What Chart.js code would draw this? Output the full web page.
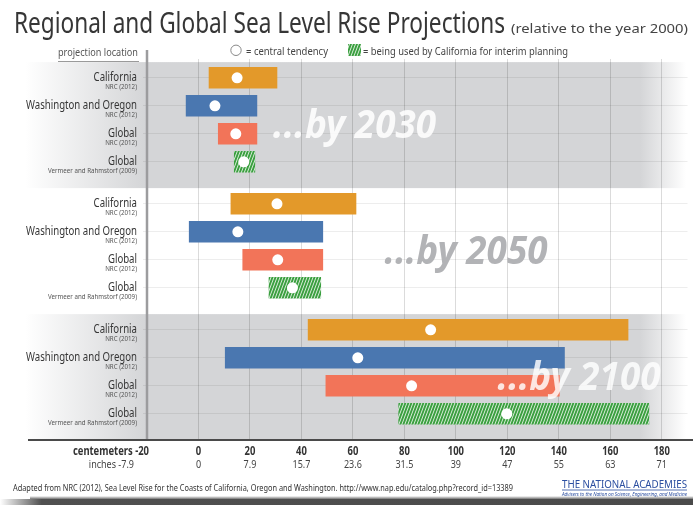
<!DOCTYPE html>
<html>
<head>
<meta charset="utf-8">
<script src="https://cdn.jsdelivr.net/npm/chart.js@4.4.0/dist/chart.umd.min.js"></script>
<title>Regional and Global Sea Level Rise Projections</title>
<style>
  html, body { margin: 0; padding: 0; background: #fff; }
  #wrap { position: relative; width: 693px; height: 505px; }
</style>
</head>
<body>
<div id="wrap"><canvas id="slr"></canvas></div>
<script>
// horizons and the four projections listed under each
var horizons = ['2030', '2050', '2100'];
var places = ['California', 'Washington and Oregon', 'Global', 'Global'];
var sources = ['NRC (2012)', 'NRC (2012)', 'NRC (2012)', 'Vermeer and Rahmstorf (2009)'];

// sea level rise in cm, one value per horizon
var caLow = [4.1, 12.6, 42.6],  caHigh = [30.5, 61.2, 166.9], caMid = [15.0, 30.5, 90.2];
var waLow = [-4.8, -3.6, 10.4], waHigh = [22.7, 48.3, 142.2], waMid = [6.4, 15.3, 61.9];
var glLow = [7.7, 17.2, 49.5],  glHigh = [22.7, 48.3, 140.2], glMid = [14.5, 30.8, 82.8];
var vrLow = [13.9, 27.4, 77.8], vrHigh = [21.9, 47.5, 175.0], vrMid = [17.6, 36.5, 119.8];

// bottom axis
var cmTicks = [-20, 0, 20, 40, 60, 80, 100, 120, 140, 160, 180];
var inchLabels = ['-7.9', '0', '7.9', '15.7', '23.6', '31.5', '39', '47', '55', '63', '71'];

var GROUP = 4.5; // rows per horizon block, gap included
function rowY(h, r) { return h * GROUP + r; }

var canvas = document.getElementById('slr');
var ctx0 = canvas.getContext('2d');

// green stripes for the interim planning range
function stripes() {
    var c = document.createElement('canvas');
    c.width = 3; c.height = 8;
    var g = c.getContext('2d');
    g.fillStyle = '#3a9f3f';
    g.fillRect(0, 0, 3, 8);
    g.strokeStyle = 'rgba(255,255,255,0.9)';
    g.lineWidth = 0.9;
    for (var k = -1; k <= 1; k++) {
        g.beginPath();
        g.moveTo(3 + k * 3, 0);
        g.lineTo(k * 3, 8);
        g.stroke();
    }
    return ctx0.createPattern(c, 'repeat');
}
var hatch = stripes();

function bars(label, lo, hi, r, color) {
    return {
        type: 'bar',
        label: label,
        data: horizons.map(function (h, i) { return { x: [lo[i], hi[i]], y: rowY(i, r) }; }),
        backgroundColor: color,
        barThickness: 21,
        grouped: false,
        borderWidth: 0
    };
}

var mids = [caMid, waMid, glMid, vrMid];
var midPts = [];
mids.forEach(function (m, r) {
    m.forEach(function (v, i) { midPts.push({ x: v, y: rowY(i, r) }); });
});

var rowTicks = [];
horizons.forEach(function (h, i) {
    places.forEach(function (p, r) { rowTicks.push({ value: rowY(i, r) }); });
});

function squeeze(ctx, text, font, width) {
    ctx.font = font;
    return width / ctx.measureText(text).width;
}

function txt(ctx, text, x, y, font, color, align, sx) {
    ctx.save();
    ctx.font = font;
    ctx.fillStyle = color;
    ctx.textAlign = align;
    ctx.textBaseline = 'alphabetic';
    ctx.translate(x, y);
    ctx.scale(sx || 1, 1);
    ctx.fillText(text, 0, 0);
    ctx.restore();
}

var GRAY = '#d4d5d7';

var decor = {
    id: 'decor',
    beforeDraw: function (chart) {
        var ctx = chart.ctx, ys = chart.scales.y, W = chart.width;
        ctx.save();
        ctx.fillStyle = '#fff';
        ctx.fillRect(0, 0, W, chart.height);
        var grad = ctx.createLinearGradient(0, 0, W, 0);
        grad.addColorStop(0, '#ffffff');
        grad.addColorStop(25 / W, '#ffffff');
        grad.addColorStop(146 / W, GRAY);
        grad.addColorStop(640 / W, GRAY);
        grad.addColorStop(686 / W, '#ffffff');
        ctx.fillStyle = grad;
        [0, 2].forEach(function (h) {
            var t = ys.getPixelForValue(rowY(h, -0.56));
            var b = ys.getPixelForValue(rowY(h, 3.94));
            ctx.fillRect(0, t, W, b - t);
        });
        ctx.restore();
    },
    beforeDatasetsDraw: function (chart) {
        var ctx = chart.ctx, x = chart.scales.x.getPixelForValue(-20);
        ctx.save();
        ctx.strokeStyle = '#9c9c9e';
        ctx.lineWidth = 2.5;
        ctx.beginPath();
        ctx.moveTo(x, 50);
        ctx.lineTo(x, chart.chartArea.bottom);
        ctx.stroke();
        ctx.restore();
    },
    afterDatasetsDraw: function (chart) {
        var ctx = chart.ctx, xs = chart.scales.x, ys = chart.scales.y;
        var font = 'italic bold 39px "Noto Sans"';
        var tags = [
            { at: 29, color: 'rgba(255,255,255,0.88)' },
            { at: 72.3, color: '#b2b3b6' },
            { at: 116.2, color: 'rgba(255,255,255,0.82)' }
        ];
        var sx = squeeze(ctx, '...by ' + horizons[0], font, 163);
        tags.forEach(function (t, i) {
            txt(ctx, '...by ' + horizons[i], xs.getPixelForValue(t.at), ys.getPixelForValue(rowY(i, 2.15)),
                font, t.color, 'left', sx);
        });
    },
    afterDraw: function (chart) {
        var ctx = chart.ctx, xs = chart.scales.x, ys = chart.scales.y, area = chart.chartArea;
        var dark = '#363636';

        // heading
        var tFont = '29px "Noto Sans"';
        var title = 'Regional and Global Sea Level Rise Projections';
        txt(ctx, title, 14, 33, tFont, dark, 'left', squeeze(ctx, title, tFont, 491));
        var sub = '(relative to the year 2000)';
        txt(ctx, sub, 511, 33, '13px "Noto Sans"', '#444', 'left', squeeze(ctx, sub, '13px "Noto Sans"', 177));

        // key row
        var kFont = '11.5px "Noto Sans"';
        var k1 = 'projection location';
        txt(ctx, k1, 58, 56, kFont, '#555', 'left', squeeze(ctx, k1, kFont, 80));
        ctx.save();
        ctx.strokeStyle = '#9a9a9a';
        ctx.lineWidth = 1;
        ctx.beginPath(); ctx.moveTo(58, 61.5); ctx.lineTo(139, 61.5); ctx.stroke();
        ctx.beginPath();
        ctx.arc(236, 50.3, 5.2, 0, Math.PI * 2);
        ctx.fillStyle = '#fff'; ctx.fill();
        ctx.strokeStyle = '#8a8a8a'; ctx.stroke();
        ctx.fillStyle = hatch;
        ctx.fillRect(348, 44, 13, 12);
        ctx.restore();
        var k2 = '= central tendency';
        txt(ctx, k2, 246, 54.5, kFont, '#444', 'left', squeeze(ctx, k2, kFont, 82));
        var k3 = '= being used by California for interim planning';
        txt(ctx, k3, 363, 54.5, kFont, '#444', 'left', squeeze(ctx, k3, kFont, 205));

        // row labels
        var nFont = '12px "Noto Sans"', sFont = '7px "Noto Sans"';
        var nsx = squeeze(ctx, places[1], nFont, 111);
        var ssx = squeeze(ctx, sources[3], sFont, 89);
        horizons.forEach(function (h, i) {
            places.forEach(function (p, r) {
                var y = ys.getPixelForValue(rowY(i, r));
                txt(ctx, p, 137, y + 3, nFont, dark, 'right', nsx);
                txt(ctx, sources[r], 137, y + 11.5, sFont, '#555', 'right', ssx);
            });
        });

        // bottom axis line and labels
        ctx.save();
        ctx.strokeStyle = '#4a4a4a';
        ctx.lineWidth = 2;
        ctx.beginPath(); ctx.moveTo(28, area.bottom); ctx.lineTo(693, area.bottom); ctx.stroke();
        ctx.restore();
        var cFont = 'bold 11.5px "Noto Sans"', iFont = '11px "Noto Sans"';
        var csx = 0.82, isx = 0.82;
        cmTicks.forEach(function (v, i) {
            var x = xs.getPixelForValue(v);
            if (i === 0) {
                txt(ctx, 'centemeters ' + v, x + 2, 455, cFont, '#333', 'right', csx);
                txt(ctx, 'inches ' + inchLabels[i], x - 13, 468, iFont, '#444', 'right', isx);
            } else {
                txt(ctx, String(v), x, 455, cFont, '#333', 'center', csx);
                txt(ctx, inchLabels[i], x, 468, iFont, '#444', 'center', isx);
            }
        });

        // credit line
        var fFont = '9px "Noto Sans"';
        var credit = 'Adapted from NRC (2012), Sea Level Rise for the Coasts of California, Oregon and Washington. http://www.nap.edu/catalog.php?record_id=13389';
        txt(ctx, credit, 13, 491, fFont, '#333', 'left', squeeze(ctx, credit, fFont, 500));
        var lFont = '10.5px "Noto Sans"';
        var logo = 'THE NATIONAL ACADEMIES';
        txt(ctx, logo, 562, 488, lFont, '#2b4ea0', 'left', squeeze(ctx, logo, lFont, 125));
        var tag = 'Advisers to the Nation on Science, Engineering, and Medicine';
        txt(ctx, tag, 562, 495.5, 'italic 4.6px "Noto Sans"', '#2b4ea0', 'left',
            squeeze(ctx, tag, 'italic 4.6px "Noto Sans"', 125));
        ctx.save();
        ctx.strokeStyle = '#2b4ea0';
        ctx.lineWidth = 0.8;
        ctx.beginPath(); ctx.moveTo(562, 490); ctx.lineTo(687, 490); ctx.stroke();

        // dark strip along the bottom edge
        var band = ctx.createLinearGradient(0, 0, 693, 0);
        band.addColorStop(0, 'rgba(80,80,80,0)');
        band.addColorStop(0.06, '#505050');
        band.addColorStop(1, '#4a4a4a');
        ctx.fillStyle = band;
        ctx.fillRect(0, 499, 693, 6);
        var soft = ctx.createLinearGradient(0, 496, 0, 499);
        soft.addColorStop(0, 'rgba(80,80,80,0)');
        soft.addColorStop(1, 'rgba(80,80,80,0.8)');
        ctx.fillStyle = soft;
        ctx.fillRect(30, 496, 663, 3);
        ctx.restore();
    }
};

new Chart(canvas, {
    type: 'bar',
    data: {
        datasets: [
            {
                type: 'scatter',
                label: 'central tendency',
                data: midPts,
                pointRadius: 5.5,
                pointBackgroundColor: '#ffffff',
                pointBorderWidth: 0,
                order: -1
            },
            bars(places[0], caLow, caHigh, 0, '#e3992a'),
            bars(places[1], waLow, waHigh, 1, '#4a77b0'),
            bars(places[2], glLow, glHigh, 2, '#f27459'),
            bars(sources[3], vrLow, vrHigh, 3, hatch)
        ]
    },
    options: {
        indexAxis: 'y',
        responsive: true,
        maintainAspectRatio: false,
        animation: false,
        events: [],
        layout: { padding: { left: 143, right: 4, top: 59, bottom: 65 } },
        plugins: {
            legend: { display: false },
            tooltip: { enabled: false }
        },
        scales: {
            x: {
                type: 'linear',
                min: -20,
                max: 190,
                offset: false,
                afterBuildTicks: function (s) { s.ticks = cmTicks.map(function (v) { return { value: v }; }); },
                ticks: { display: false },
                border: { display: false },
                grid: {
                    offset: false,
                    drawTicks: false,
                    color: function (c) { return c.tick && c.tick.value === -20 ? 'rgba(0,0,0,0)' : 'rgba(0,0,0,0.14)'; }
                }
            },
            y: {
                type: 'linear',
                reverse: true,
                offset: false,
                min: -0.671,
                max: 12.936,
                afterBuildTicks: function (s) { s.ticks = rowTicks.slice(); },
                ticks: { display: false },
                border: { display: false },
                grid: { offset: false, color: 'rgba(0,0,0,0.07)', drawTicks: true, tickLength: 4 }
            }
        }
    },
    plugins: [decor]
});
</script>
</body>
</html>
